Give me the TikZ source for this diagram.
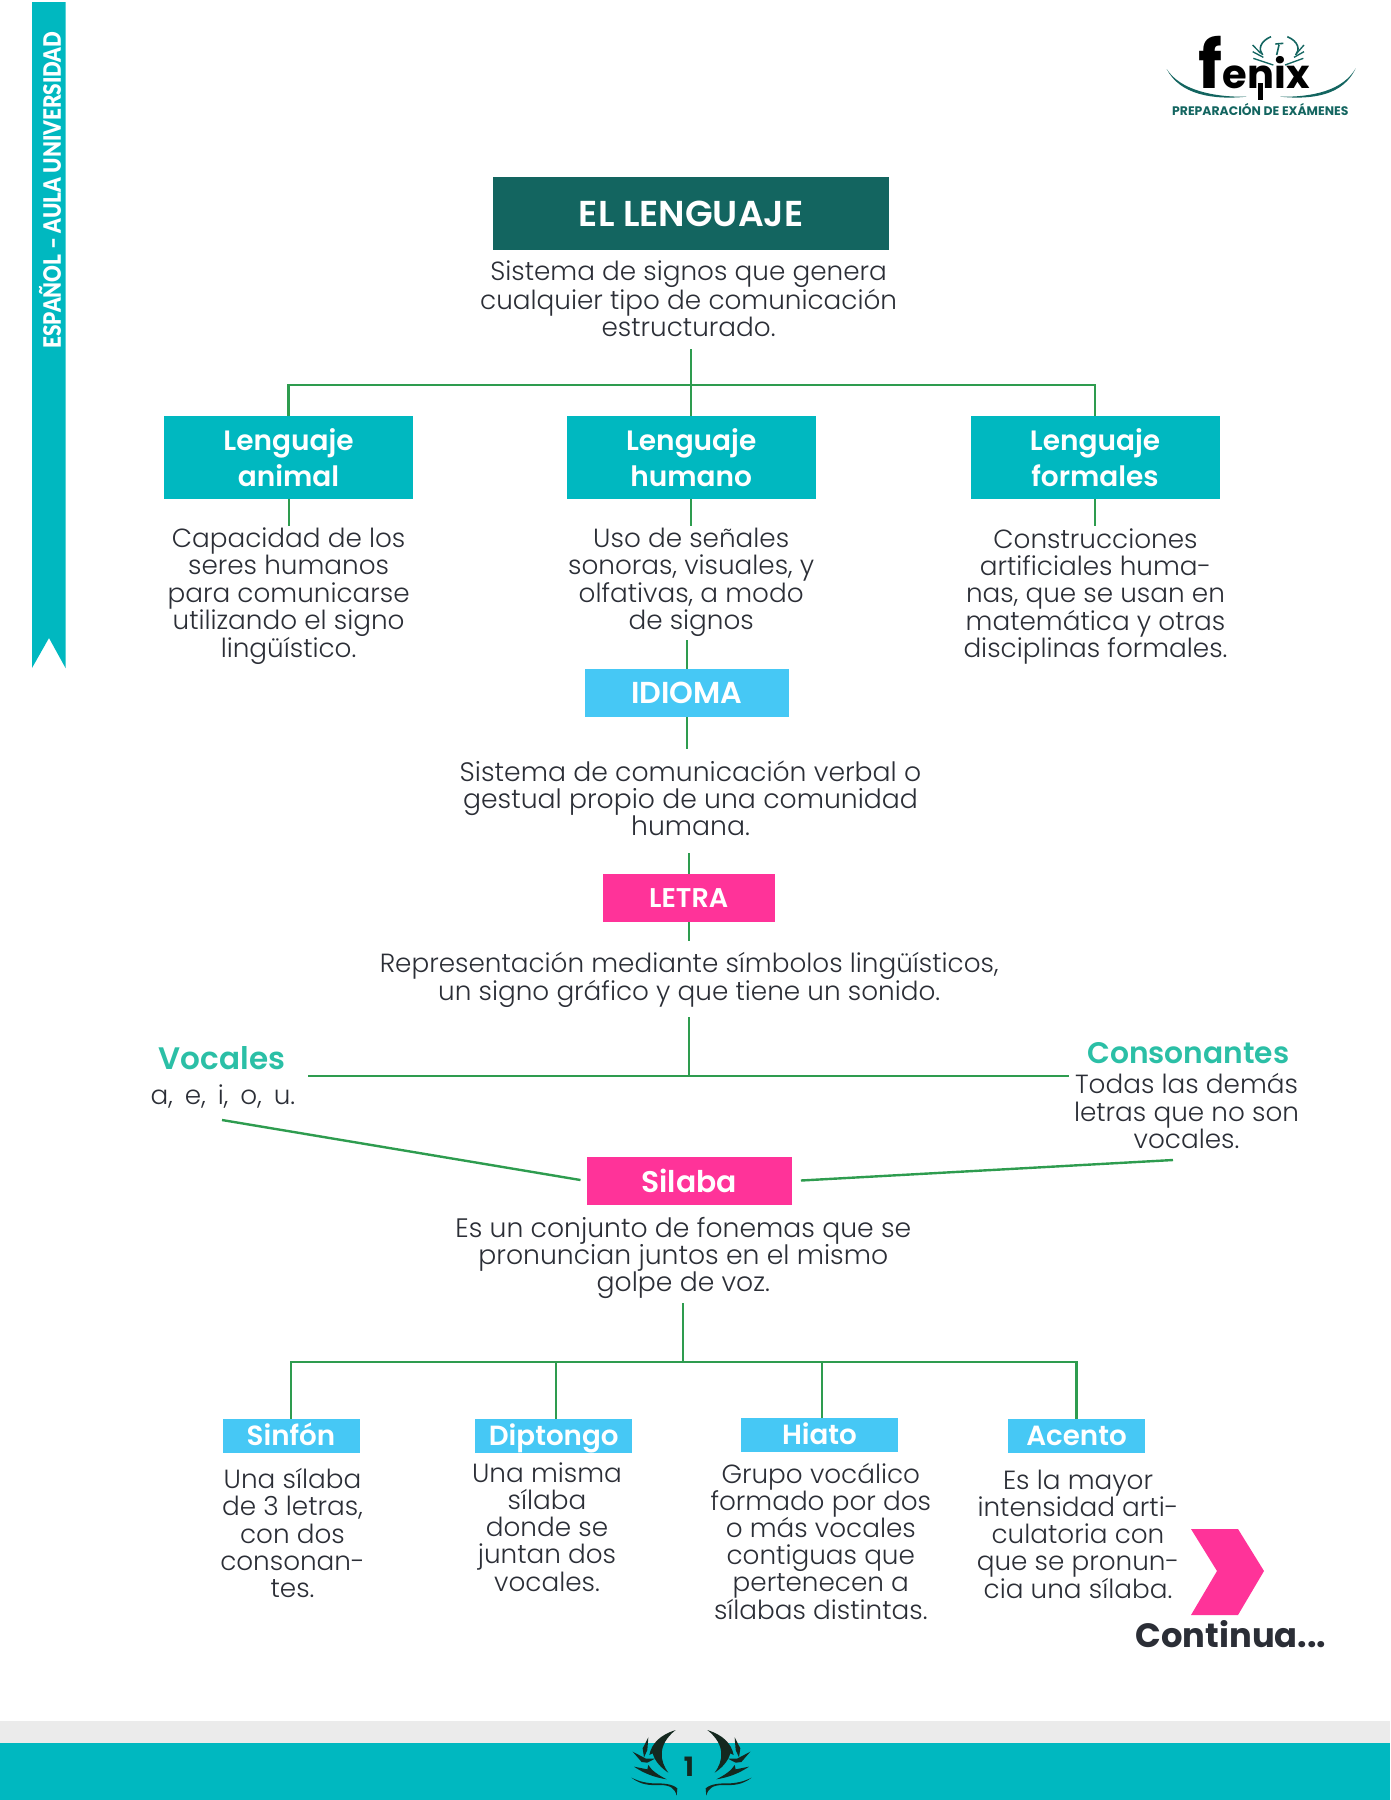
\documentclass[tikz,border=0pt]{standalone}
\usepackage{fontspec}
\setmainfont{Poppins Light}[BoldFont=Poppins SemiBold]
\newfontfamily\heavyfont{Poppins Bold}
\newfontfamily\sidefont{Lato Black}
\definecolor{myteal}{HTML}{00B8C0}
\definecolor{mydark}{HTML}{136560}
\definecolor{mysky}{HTML}{46C8F5}
\definecolor{mypink}{HTML}{FF3399}
\definecolor{mymint}{HTML}{2BBFA6}
\definecolor{myink}{HTML}{2B2E36}
\definecolor{mygreen}{HTML}{2E9C4F}
\definecolor{mygray1}{HTML}{EBEBEB}
\definecolor{myleaf}{HTML}{14281F}
\newlength{\px}
\setlength{\px}{0.75pt}
\newcommand{\laurelside}{
\fill (347,90) .. controls (300,105) and (275,130) .. (268,165) -- (278,160) .. controls (285,185) and (305,205) .. (325,218) .. controls (300,185) and (290,135) .. (347,90) -- cycle;
\fill (265,112) -- (248,145) -- (252,172) -- (262,150) -- cycle;
\fill (218,155) -- (245,186) -- (262,188) -- (285,176) -- (258,176) -- cycle;
\fill (222,200) .. controls (255,222) and (285,232) .. (320,238) .. controls (295,225) and (275,212) .. (265,195) -- (262,208) -- cycle;
\fill (214,233) .. controls (245,256) and (270,256) .. (300,255) .. controls (330,255) and (345,265) .. (350,287) -- (352,265) .. controls (335,250) and (305,250) .. (285,250) .. controls (260,250) and (240,245) .. (214,233) -- cycle;
}
\begin{document}
\begin{tikzpicture}[
    x = \px, y = -\px,
    link/.style = {mygreen, line width = 1.5pt},
    linkb/.style = {mygreen, line width = 1.8pt},
    body/.style = {align = center, text = myink, inner sep = 0, font = \fontsize{19.7}{20.4}\selectfont},
    head/.style = {align = center, text = mymint, inner sep = 0, font = \bfseries\fontsize{23.3}{26}\selectfont},
    bigbox/.style = {fill = myteal, text = white, align = center, inner sep = 0, minimum width = 249\px, minimum height = 83\px, font = \bfseries\fontsize{21}{27}\selectfont},
    midbox/.style = {text = white, inner sep = 0, minimum height = 48\px},
    smallbox/.style = {fill = mysky, text = white, inner sep = 0, minimum height = 34\px, text height = 15pt, text depth = 0.6pt, font = \bfseries\fontsize{20.8}{24}\selectfont}
]
\useasboundingbox (0,0) rectangle (1390,1800);

% side ribbon
\fill[myteal] (32,2) -- (65.5,2) -- (65.5,668) -- (49,638) -- (32,668) -- cycle;
\node[rotate = 90, text = white, inner sep = 0, font = \sidefont\fontsize{18}{20}\selectfont] (sidelabel) at (50,190) {\scalebox{0.86}[1]{ESPAÑOL – AULA UNIVERSIDAD}};

% logo
\begin{scope}[shift = {(1130,0)}, scale = 1/3]
\fill[mydark] (110,207) .. controls (150,270) and (250,292) .. (350,290) .. controls (250,300) and (150,285) .. (110,207) -- cycle;
\fill[mydark] (677,205) .. controls (640,270) and (550,292) .. (450,290) .. controls (550,300) and (640,285) .. (677,205) -- cycle;
\draw[mydark, line width = 1.2pt] (423,110) .. controls (388,125) and (385,150) .. (398,165);
\draw[mydark, line width = 1.2pt] (472,110) .. controls (507,125) and (510,150) .. (497,165);
\draw[mydark, line width = 1pt] (368,135) -- (392,160) (368,155) -- (400,172) (370,175) -- (430,195);
\draw[mydark, line width = 1pt] (522,135) -- (500,160) (522,155) -- (492,172) (520,175) -- (465,195);
\draw[mydark, line width = 1.2pt] (440,165) -- (447,135) (436,132) -- (460,130);
\node[anchor = base west, inner sep = 0, text = black, font = \heavyfont\fontsize{50}{50}\selectfont] (fenix) at (205,265) {f\fontsize{30}{30}\selectfont enix};
\fill[black] (385,250) rectangle (398,300);
\node[text = mydark, inner sep = 0, font = \heavyfont\fontsize{9.3}{12}\selectfont] (fenixsub) at (391,327) {PREPARACIÓN DE EXÁMENES};
\end{scope}

% title
\node[fill = mydark, text = white, inner sep = 0, minimum width = 396\px, minimum height = 73\px, font = \bfseries\fontsize{27}{30}\selectfont] (lenguaje) at (691.2,213.5) {EL LENGUAJE};
\node[body] (lenguajetxt) at (688.6,298.5) {Sistema de signos que genera\\cualquier tipo de comunicación\\estructurado.};

\node[bigbox] (animal) at (288.5,457.5) {Lenguaje\\animal};
\node[bigbox] (humano) at (691.2,457.5) {Lenguaje\\humano};
\node[bigbox] (formales) at (1095,457.5) {Lenguaje\\formales};

\node[body] (animaltxt) at (288.6,596.5) {Capacidad de los\\seres humanos\\para comunicarse\\utilizando el signo\\lingüístico.};
\node[body] (humanotxt) at (691.2,582.3) {Uso de señales\\sonoras, visuales, y\\olfativas, a modo\\de signos};
\node[body] (formalestxt) at (1095.5,596.5) {Construcciones\\artificiales huma-\\nas, que se usan en\\matemática y otras\\disciplinas formales.};

\coordinate (hubtop) at (691.2,385);
\coordinate (lenguajeend) at (691.2,349);
\coordinate (animalend) at (288.5,526);
\coordinate (humanoend) at (691.2,526);
\coordinate (formalesend) at (1095,526);
\draw[linkb] (animal.north) |- (hubtop) -| (formales.north);
\draw[link] (lenguajeend) -- (humano.north);
\foreach \n in {animal, humano, formales}
    \draw[link] (\n.south) -- (\n end);

% idioma and letra
\node[midbox, fill = mysky, minimum width = 204\px, font = \bfseries\fontsize{22.7}{26}\selectfont] (idioma) at (687,693) {IDIOMA};
\node[body, font = \fontsize{20}{20.4}\selectfont] (idiomatxt) at (690.5,798) {Sistema de comunicación verbal o\\gestual propio de una comunidad\\humana.};
\node[midbox, fill = mypink, minimum width = 172\px, font = \bfseries\fontsize{20.3}{26}\selectfont] (letra) at (688.7,898) {LETRA};
\node[body] (letratxt) at (689.2,979.7) {Representación mediante símbolos lingüísticos,\\un signo gráfico y que tiene un sonido.};

\coordinate (signosend) at (687,640);
\coordinate (idiomaend) at (687,749);
\coordinate (humanaend) at (688.7,853);
\coordinate (letraend) at (688.7,941);
\draw[link] (signosend) -- (idioma.north);
\draw[link] (idioma.south) -- (idiomaend);
\draw[link] (humanaend) -- (letra.north);
\draw[link] (letra.south) -- (letraend);

% vocales, consonantes
\node[head] (vocales) at (222,1058) {Vocales};
\node[body] (vocalestxt) at (223,1097) {\spaceskip = 9pt a, e, i, o, u.};
\node[head, font = \bfseries\fontsize{22.3}{26}\selectfont] (consonantes) at (1188.3,1053) {Consonantes};
\node[body] (consonantestxt) at (1186.5,1111) {Todas las demás\\letras que no son\\vocales.};

\coordinate (sonidoend) at (688.7,1017);
\coordinate (barmid) at (688.7,1076);
\coordinate (barleft) at (308,1076);
\coordinate (barright) at (1069,1076);
\draw[link] (sonidoend) -- (barmid);
\draw[linkb] (barleft) -- (barright);

\node[midbox, fill = mypink, minimum width = 205\px, font = \bfseries\fontsize{22.4}{26}\selectfont] (silaba) at (689.2,1181) {Silaba};
\node[body, font = \fontsize{20}{20.4}\selectfont] (silabatxt) at (683.3,1258) {Es un conjunto de fonemas que se\\pronuncian juntos en el mismo\\golpe de voz.};

\coordinate (vocalesend) at (222,1120);
\coordinate (consonantesend) at (1173,1160);
\draw[linkb, shorten > = 6\px] (vocalesend) -- (silaba.west);
\draw[linkb, shorten < = 9\px] (silaba.east) -- (consonantesend);

% the four kinds
\node[smallbox, minimum width = 137\px] (sinfon) at (291,1436) {Sinfón};
\node[smallbox, minimum width = 157\px] (diptongo) at (553.7,1436) {Diptongo};
\node[smallbox, minimum width = 157\px] (hiato) at (819.5,1435) {Hiato};
\node[smallbox, minimum width = 137\px] (acento) at (1076.5,1436) {Acento};

\coordinate (silabaend) at (682.7,1303);
\coordinate (hubbot) at (682.7,1362);
\draw[link] (silabaend) -- (hubbot);
\draw[linkb] (sinfon.north) |- (hubbot) -| (acento.north);
\draw[link] ([xshift = 2.3\px]diptongo.north) -- ([xshift = 2.3\px]diptongo.north |- hubbot);
\draw[link] ([xshift = 2\px]hiato.north) -- ([xshift = 2\px]hiato.north |- hubbot);

\node[body] (sinfontxt) at (292.5,1533) {Una sílaba\\de 3 letras,\\con dos\\consonan-\\tes.};
\node[body] (diptongotxt) at (547,1527) {Una misma\\sílaba\\donde se\\juntan dos\\vocales.};
\node[body] (hiatotxt) at (820.8,1541) {Grupo vocálico\\formado por dos\\o más vocales\\contiguas que\\pertenecen a\\sílabas distintas.};
\node[body] (acentotxt) at (1078,1534) {Es la mayor\\intensidad arti-\\culatoria con\\que se pronun-\\cia una sílaba.};

% next page mark
\fill[mypink] (1191,1529) -- (1238,1529) -- (1264,1571) -- (1238,1615) -- (1191,1615) -- (1217,1571) -- cycle;
\node[text = myink, inner sep = 0, font = \heavyfont\fontsize{25.3}{28}\selectfont] (continua) at (1231,1634) {Continua...};

% footer
\fill[mygray1] (0,1721) rectangle (1390,1743);
\fill[myteal] (0,1743) rectangle (1390,1800);
\begin{scope}[shift = {(560,1700)}, scale = 1/3, myleaf]
\laurelside
\begin{scope}[shift = {(789,0)}, xscale = -1]
\laurelside
\end{scope}
\node[text = myleaf, inner sep = 0, font = \heavyfont\fontsize{20}{22}\selectfont] (pagenum) at (387,200) {1};
\end{scope}
\end{tikzpicture}
\end{document}
